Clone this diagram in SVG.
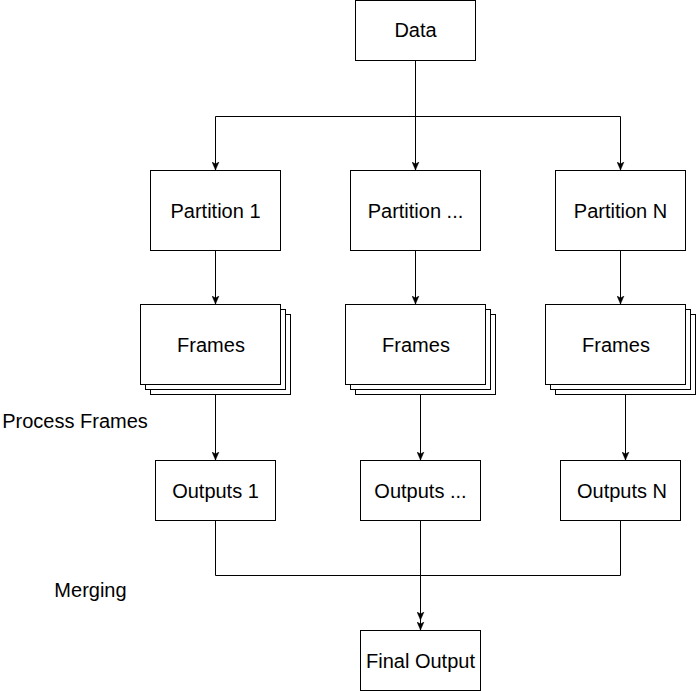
<svg xmlns="http://www.w3.org/2000/svg" width="696" height="691" viewBox="0 0 696 691">
<style>
.box{fill:#fff;stroke:#000;stroke-width:1}
.lbl{font-family:"Liberation Sans",Arial,sans-serif;font-size:20px;fill:#000;text-anchor:middle}
.edge{fill:none;stroke:#000;stroke-width:1}
</style>
<defs>
<marker id="arr" viewBox="0 0 8 8" refX="8" refY="4" markerWidth="8" markerHeight="8" markerUnits="userSpaceOnUse" orient="auto">
<path d="M0,0.6 L8,4 L0,7.4 L2,4 z" fill="#000" stroke="#000" stroke-width="0.5"/>
</marker>
</defs>
<rect width="696" height="691" fill="#fff"/>
<g id="connectors">
<path class="edge" d="M415.5,60.5 V170" marker-end="url(#arr)"/>
<path class="edge" d="M415.5,116.5 H215.5 V170" marker-end="url(#arr)"/>
<path class="edge" d="M415.5,116.5 H620.5 V170" marker-end="url(#arr)"/>
<path class="edge" d="M215.5,250.5 V304" marker-end="url(#arr)"/>
<path class="edge" d="M415.5,250.5 V304" marker-end="url(#arr)"/>
<path class="edge" d="M620.5,250.5 V304" marker-end="url(#arr)"/>
<path class="edge" d="M215.5,394.5 V460" marker-end="url(#arr)"/>
<path class="edge" d="M420.5,394.5 V460" marker-end="url(#arr)"/>
<path class="edge" d="M625.5,394.5 V460" marker-end="url(#arr)"/>
<path class="edge" d="M215.5,520.5 V575.5 H420.5 V620" marker-end="url(#arr)"/>
<path class="edge" d="M620.5,520.5 V575.5 H420.5 V630" marker-end="url(#arr)"/>
<path class="edge" d="M420.5,520.5 V630"/>
</g>
<g id="data"><rect class="box" x="355.5" y="0.5" width="120" height="60"/><text class="lbl" x="415.5" y="37">Data</text></g>
<g id="partition1"><rect class="box" x="150.5" y="170.5" width="130" height="80"/><text class="lbl" x="215.5" y="217.5">Partition 1</text></g>
<g id="partitionDots"><rect class="box" x="350.5" y="170.5" width="130" height="80"/><text class="lbl" x="415.5" y="217.5">Partition ...</text></g>
<g id="partitionN"><rect class="box" x="555.5" y="170.5" width="130" height="80"/><text class="lbl" x="620.5" y="217.5">Partition N</text></g>
<g id="frames1">
<rect class="box" x="150.5" y="314.5" width="140" height="80"/>
<rect class="box" x="145.5" y="309.5" width="140" height="80"/>
<rect class="box" x="140.5" y="304.5" width="140" height="80"/>
<text class="lbl" x="211" y="351.5">Frames</text>
</g>
<g id="framesDots">
<rect class="box" x="355.5" y="314.5" width="140" height="80"/>
<rect class="box" x="350.5" y="309.5" width="140" height="80"/>
<rect class="box" x="345.5" y="304.5" width="140" height="80"/>
<text class="lbl" x="416" y="351.5">Frames</text>
</g>
<g id="framesN">
<rect class="box" x="555.5" y="314.5" width="140" height="80"/>
<rect class="box" x="550.5" y="309.5" width="140" height="80"/>
<rect class="box" x="545.5" y="304.5" width="140" height="80"/>
<text class="lbl" x="616" y="351.5">Frames</text>
</g>
<g id="outputs1"><rect class="box" x="155.5" y="460.5" width="120" height="60"/><text class="lbl" x="215.5" y="497.5">Outputs 1</text></g>
<g id="outputsDots"><rect class="box" x="360.5" y="460.5" width="120" height="60"/><text class="lbl" x="420.5" y="497.5">Outputs ...</text></g>
<g id="outputsN"><rect class="box" x="560.5" y="460.5" width="120" height="60"/><text class="lbl" x="622" y="497.5">Outputs N</text></g>
<g id="finalOutput"><rect class="box" x="360.5" y="630.5" width="120" height="60"/><text class="lbl" x="420.5" y="667.5">Final Output</text></g>
<g id="labels">
<text class="lbl" x="75" y="427.5">Process Frames</text>
<text class="lbl" x="90.5" y="597">Merging</text>
</g>
</svg>
